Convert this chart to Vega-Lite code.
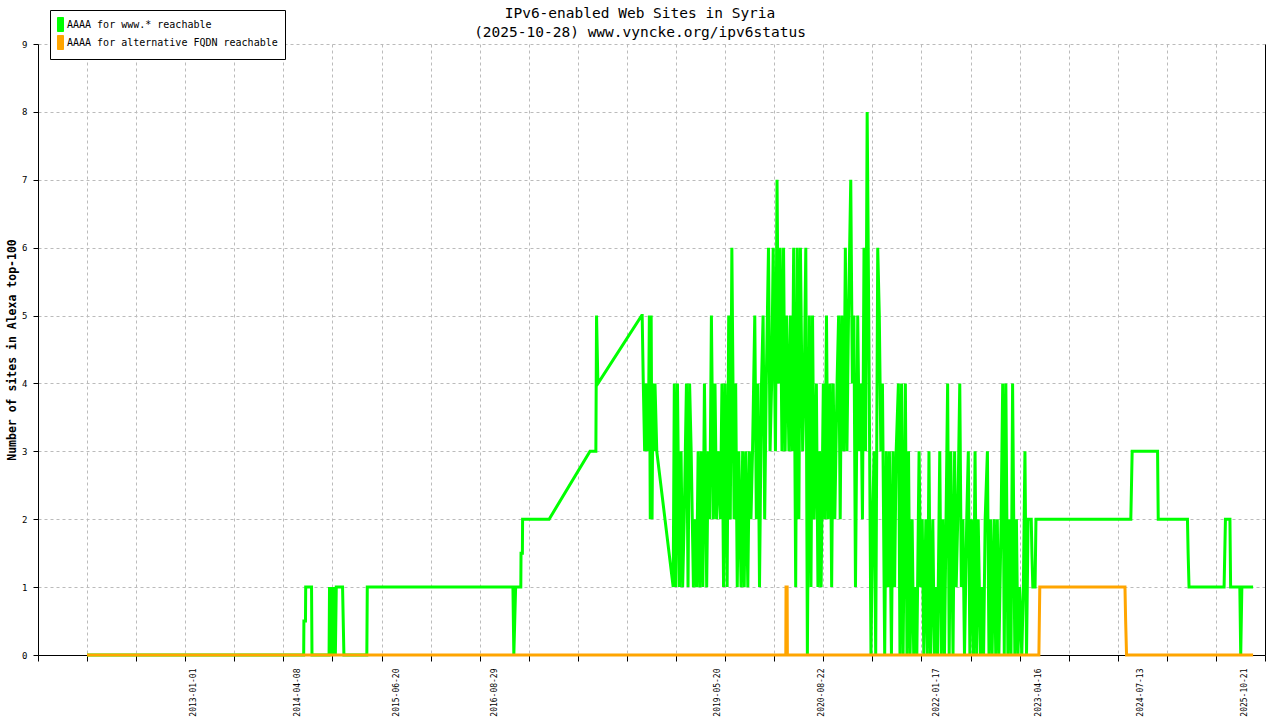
{
"$schema": "https://vega.github.io/schema/vega-lite/v6.json",
"width": 1227,
"height": 611,
"autosize": {"type": "none"},
"padding": {"left": 38, "top": 44, "right": 15, "bottom": 65},
"background": "white",
"title": {"text": ["IPv6-enabled Web Sites in Syria", "(2025-10-28) www.vyncke.org/ipv6status"], "font": "DejaVu Sans Mono", "fontSize": 14.5, "fontWeight": "normal", "color": "black", "anchor": "middle", "frame": "group", "offset": 4, "lineHeight": 19, "dx": -11.5, "dy": 35},
"datasets": {
"www": [
{"date":"2011-09-13","sites":0},
{"date":"2014-05-04","sites":0},{"date":"2014-05-05","sites":0.5},{"date":"2014-05-12","sites":0.5},{"date":"2014-05-13","sites":1},
{"date":"2014-06-08","sites":1},{"date":"2014-06-10","sites":0},
{"date":"2014-08-25","sites":0},{"date":"2014-08-27","sites":1},{"date":"2014-09-01","sites":0},{"date":"2014-09-04","sites":1},{"date":"2014-09-08","sites":0},{"date":"2014-09-11","sites":1},{"date":"2014-09-15","sites":0},{"date":"2014-09-18","sites":1},{"date":"2014-09-22","sites":0},{"date":"2014-09-26","sites":1},{"date":"2014-10-24","sites":1},{"date":"2014-10-27","sites":0.5},{"date":"2014-10-30","sites":0},
{"date":"2015-02-09","sites":0},{"date":"2015-02-11","sites":1},
{"date":"2016-11-20","sites":1},{"date":"2016-11-24","sites":0},{"date":"2016-11-28","sites":0.5},{"date":"2016-12-02","sites":1},
{"date":"2016-12-25","sites":1},{"date":"2016-12-26","sites":1.5},{"date":"2017-01-01","sites":1.5},{"date":"2017-01-02","sites":2},
{"date":"2017-04-30","sites":2},{"date":"2017-10-29","sites":3},{"date":"2017-11-24","sites":3},{"date":"2017-11-27","sites":5},{"date":"2017-12-03","sites":4},
{"date":"2018-06-16","sites":5},{"date":"2018-06-18","sites":5},{"date":"2018-06-23","sites":4},{"date":"2018-06-29","sites":3},{"date":"2018-07-03","sites":4},{"date":"2018-07-07","sites":3},{"date":"2018-07-11","sites":4},{"date":"2018-07-15","sites":3},{"date":"2018-07-20","sites":5},{"date":"2018-07-24","sites":2},{"date":"2018-07-28","sites":5},{"date":"2018-08-01","sites":2},{"date":"2018-08-05","sites":4},{"date":"2018-08-10","sites":3},{"date":"2018-08-14","sites":4},{"date":"2018-08-22","sites":3},
{"date":"2018-11-03","sites":1},
{"date":"2018-11-08","sites":4},{"date":"2018-11-15","sites":1},{"date":"2018-11-22","sites":4},
{"date":"2018-12-01","sites":1},{"date":"2018-12-08","sites":3},{"date":"2018-12-15","sites":1},{"date":"2018-12-22","sites":2},
{"date":"2019-01-01","sites":4},{"date":"2019-01-08","sites":1},{"date":"2019-01-15","sites":4},{"date":"2019-01-22","sites":3},
{"date":"2019-02-01","sites":1},{"date":"2019-02-08","sites":2},{"date":"2019-02-15","sites":1},{"date":"2019-02-22","sites":3},
{"date":"2019-03-01","sites":1},{"date":"2019-03-08","sites":3},{"date":"2019-03-15","sites":1},{"date":"2019-03-22","sites":4},
{"date":"2019-04-01","sites":1},{"date":"2019-04-08","sites":3},{"date":"2019-04-15","sites":2},{"date":"2019-04-22","sites":5},
{"date":"2019-05-01","sites":2},{"date":"2019-05-08","sites":4},{"date":"2019-05-15","sites":2},{"date":"2019-05-22","sites":3},
{"date":"2019-06-01","sites":2},{"date":"2019-06-08","sites":4},{"date":"2019-06-15","sites":1},{"date":"2019-06-22","sites":4},
{"date":"2019-07-01","sites":1},{"date":"2019-07-08","sites":5},{"date":"2019-07-15","sites":2},{"date":"2019-07-22","sites":6},
{"date":"2019-08-01","sites":2},{"date":"2019-08-08","sites":4},{"date":"2019-08-15","sites":1},{"date":"2019-08-22","sites":3},
{"date":"2019-09-01","sites":1},{"date":"2019-09-08","sites":3},{"date":"2019-09-15","sites":1},{"date":"2019-09-22","sites":3},
{"date":"2019-10-01","sites":1},{"date":"2019-10-08","sites":3},{"date":"2019-10-15","sites":2},{"date":"2019-10-22","sites":3},
{"date":"2019-11-01","sites":5},{"date":"2019-11-08","sites":2},{"date":"2019-11-15","sites":4},{"date":"2019-11-22","sites":1},
{"date":"2019-12-01","sites":4},{"date":"2019-12-08","sites":5},{"date":"2019-12-15","sites":2},{"date":"2019-12-22","sites":4},
{"date":"2020-01-01","sites":6},{"date":"2020-01-08","sites":3},{"date":"2020-01-15","sites":4},{"date":"2020-01-22","sites":6},
{"date":"2020-02-01","sites":3},{"date":"2020-02-08","sites":7},{"date":"2020-02-15","sites":4},{"date":"2020-02-22","sites":6},
{"date":"2020-03-01","sites":3},{"date":"2020-03-08","sites":6},{"date":"2020-03-15","sites":3},{"date":"2020-03-22","sites":5},
{"date":"2020-04-01","sites":3},{"date":"2020-04-08","sites":5},{"date":"2020-04-15","sites":3},{"date":"2020-04-22","sites":6},
{"date":"2020-05-01","sites":1},{"date":"2020-05-08","sites":6},{"date":"2020-05-15","sites":2},{"date":"2020-05-22","sites":6},
{"date":"2020-06-01","sites":3},{"date":"2020-06-08","sites":4},{"date":"2020-06-15","sites":6},{"date":"2020-06-22","sites":0},
{"date":"2020-07-01","sites":5},{"date":"2020-07-08","sites":1},{"date":"2020-07-15","sites":5},{"date":"2020-07-22","sites":2},
{"date":"2020-08-01","sites":4},{"date":"2020-08-08","sites":1},{"date":"2020-08-15","sites":3},{"date":"2020-08-22","sites":1},
{"date":"2020-09-01","sites":4},{"date":"2020-09-08","sites":2},{"date":"2020-09-15","sites":5},{"date":"2020-09-22","sites":2},
{"date":"2020-10-01","sites":4},{"date":"2020-10-08","sites":1},{"date":"2020-10-15","sites":4},{"date":"2020-10-22","sites":2},
{"date":"2020-11-01","sites":4},{"date":"2020-11-08","sites":5},{"date":"2020-11-15","sites":2},{"date":"2020-11-22","sites":5},
{"date":"2020-12-01","sites":3},{"date":"2020-12-08","sites":6},{"date":"2020-12-15","sites":3},{"date":"2020-12-22","sites":5},
{"date":"2021-01-01","sites":7},{"date":"2021-01-08","sites":4},{"date":"2021-01-15","sites":5},{"date":"2021-01-22","sites":1},
{"date":"2021-02-01","sites":5},{"date":"2021-02-08","sites":3},{"date":"2021-02-15","sites":4},{"date":"2021-02-22","sites":2},
{"date":"2021-03-01","sites":6},{"date":"2021-03-08","sites":3},{"date":"2021-03-15","sites":8},{"date":"2021-03-22","sites":5},
{"date":"2021-04-01","sites":0},{"date":"2021-04-08","sites":2},{"date":"2021-04-15","sites":3},{"date":"2021-04-22","sites":0},
{"date":"2021-05-01","sites":6},{"date":"2021-05-08","sites":5},{"date":"2021-05-15","sites":3},{"date":"2021-05-22","sites":4},
{"date":"2021-06-01","sites":0},{"date":"2021-06-08","sites":3},{"date":"2021-06-15","sites":1},{"date":"2021-06-22","sites":3},
{"date":"2021-07-01","sites":0},{"date":"2021-07-08","sites":3},{"date":"2021-07-15","sites":1},{"date":"2021-07-22","sites":3},
{"date":"2021-08-01","sites":4},{"date":"2021-08-08","sites":0},{"date":"2021-08-15","sites":4},{"date":"2021-08-22","sites":0},
{"date":"2021-09-01","sites":4},{"date":"2021-09-08","sites":0},{"date":"2021-09-15","sites":3},{"date":"2021-09-22","sites":0},
{"date":"2021-10-01","sites":2},{"date":"2021-10-08","sites":0},{"date":"2021-10-15","sites":1},{"date":"2021-10-22","sites":0},
{"date":"2021-11-01","sites":3},{"date":"2021-11-08","sites":1},{"date":"2021-11-15","sites":2},{"date":"2021-11-22","sites":0},
{"date":"2021-12-01","sites":2},{"date":"2021-12-08","sites":0},{"date":"2021-12-15","sites":3},{"date":"2021-12-22","sites":0},
{"date":"2022-01-01","sites":2},{"date":"2022-01-08","sites":0},{"date":"2022-01-15","sites":1},{"date":"2022-01-22","sites":0},
{"date":"2022-02-01","sites":3},{"date":"2022-02-08","sites":0},{"date":"2022-02-15","sites":2},{"date":"2022-02-22","sites":0},
{"date":"2022-03-01","sites":2},{"date":"2022-03-08","sites":4},{"date":"2022-03-15","sites":0},{"date":"2022-03-22","sites":3},
{"date":"2022-04-01","sites":0},{"date":"2022-04-08","sites":3},{"date":"2022-04-15","sites":1},{"date":"2022-04-22","sites":2},
{"date":"2022-05-01","sites":4},{"date":"2022-05-08","sites":1},{"date":"2022-05-15","sites":2},{"date":"2022-05-22","sites":0},
{"date":"2022-06-01","sites":2},{"date":"2022-06-08","sites":3},{"date":"2022-06-15","sites":0},{"date":"2022-06-22","sites":2},
{"date":"2022-07-01","sites":0},{"date":"2022-07-08","sites":3},{"date":"2022-07-15","sites":0},{"date":"2022-07-22","sites":2},
{"date":"2022-08-01","sites":0},{"date":"2022-08-08","sites":1},{"date":"2022-08-15","sites":0},{"date":"2022-08-22","sites":2},
{"date":"2022-09-01","sites":3},{"date":"2022-09-08","sites":0},{"date":"2022-09-15","sites":2},{"date":"2022-09-22","sites":0},
{"date":"2022-10-01","sites":2},{"date":"2022-10-08","sites":0},{"date":"2022-10-15","sites":2},{"date":"2022-10-22","sites":0},
{"date":"2022-11-01","sites":2},{"date":"2022-11-08","sites":4},{"date":"2022-11-15","sites":0},{"date":"2022-11-22","sites":4},
{"date":"2022-12-01","sites":0},{"date":"2022-12-08","sites":2},{"date":"2022-12-15","sites":0},{"date":"2022-12-22","sites":4},
{"date":"2023-01-01","sites":0},{"date":"2023-01-08","sites":2},{"date":"2023-01-15","sites":0},{"date":"2023-01-22","sites":1},
{"date":"2023-02-01","sites":0},{"date":"2023-02-08","sites":1},{"date":"2023-02-15","sites":3},{"date":"2023-02-22","sites":0},
{"date":"2023-03-01","sites":2},{"date":"2023-03-08","sites":2},{"date":"2023-03-15","sites":2},{"date":"2023-03-18","sites":1.5},{"date":"2023-03-22","sites":1},{"date":"2023-04-01","sites":1},{"date":"2023-04-05","sites":2},
{"date":"2024-05-31","sites":2},{"date":"2024-06-03","sites":2.5},{"date":"2024-06-06","sites":3},
{"date":"2024-09-27","sites":3},{"date":"2024-09-30","sites":2},
{"date":"2025-02-07","sites":2},{"date":"2025-02-10","sites":1.5},{"date":"2025-02-14","sites":1},
{"date":"2025-07-20","sites":1},{"date":"2025-07-26","sites":2},{"date":"2025-08-15","sites":2},{"date":"2025-08-18","sites":1},
{"date":"2025-09-28","sites":1},{"date":"2025-10-02","sites":0},{"date":"2025-10-07","sites":1},{"date":"2025-11-26","sites":1}
],
"alt": [
{"date":"2011-09-13","sites":0},
{"date":"2020-03-18","sites":0},{"date":"2020-03-19","sites":1},{"date":"2020-03-24","sites":1},{"date":"2020-03-25","sites":0},
{"date":"2023-04-18","sites":0},{"date":"2023-04-22","sites":1},
{"date":"2024-05-05","sites":1},{"date":"2024-05-08","sites":0.5},{"date":"2024-05-12","sites":0},
{"date":"2025-11-26","sites":0}
]
},
"layer": [
{
"data": {"name": "www"},
"mark": {"type": "line", "strokeWidth": 3, "interpolate": "linear"},
"encoding": {
"x": {"field": "date", "type": "temporal",
"scale": {"type": "utc", "nice": false, "domain": [{"year":2011,"month":2,"date":7,"utc":true},{"year":2026,"month":1,"date":18,"utc":true}]},
"axis": {"orient": "bottom", "title": null, "labels": false, "ticks": true, "tickSize": 6, "tickColor": "black", "tickWidth": 1, "grid": true, "gridColor": "#bbbbbb", "gridDash": [3,3], "gridWidth": 1, "domain": true, "domainColor": "black", "domainWidth": 1,
"values": [
{"year":2011,"month":2,"date":7,"utc":true},{"year":2011,"month":9,"date":13,"utc":true},{"year":2012,"month":4,"date":19,"utc":true},{"year":2012,"month":11,"date":23,"utc":true},
{"year":2013,"month":6,"date":29,"utc":true},{"year":2014,"month":2,"date":3,"utc":true},{"year":2014,"month":9,"date":9,"utc":true},{"year":2015,"month":4,"date":16,"utc":true},
{"year":2015,"month":11,"date":20,"utc":true},{"year":2016,"month":6,"date":25,"utc":true},{"year":2017,"month":1,"date":30,"utc":true},{"year":2017,"month":9,"date":5,"utc":true},
{"year":2018,"month":4,"date":11,"utc":true},{"year":2018,"month":11,"date":16,"utc":true},{"year":2019,"month":6,"date":22,"utc":true},{"year":2020,"month":1,"date":26,"utc":true},
{"year":2020,"month":9,"date":1,"utc":true},{"year":2021,"month":4,"date":7,"utc":true},{"year":2021,"month":11,"date":11,"utc":true},{"year":2022,"month":6,"date":18,"utc":true},
{"year":2023,"month":1,"date":22,"utc":true},{"year":2023,"month":8,"date":29,"utc":true},{"year":2024,"month":4,"date":3,"utc":true},{"year":2024,"month":11,"date":7,"utc":true},
{"year":2025,"month":6,"date":14,"utc":true},{"year":2026,"month":1,"date":18,"utc":true}
]}},
"y": {"field": "sites", "type": "quantitative",
"scale": {"domain": [0, 9], "nice": false, "zero": true},
"axis": {"orient": "left", "values": [0,1,2,3,4,5,6,7,8,9], "format": "d",
"title": "Number of sites in Alexa top-100", "titleFont": "DejaVu Sans Mono", "titleFontSize": 11.5, "titleFontWeight": "bold", "titleColor": "black", "titleAngle": 270, "titleX": -26, "titleY": 305.5, "titleAlign": "center", "titleBaseline": "middle",
"labelFont": "DejaVu Sans Mono", "labelFontSize": 9, "labelColor": "black", "labelPadding": 6,
"ticks": true, "tickSize": 5, "tickColor": "black", "tickWidth": 1,
"domain": true, "domainColor": "black", "domainWidth": 1,
"grid": true, "gridColor": "#bbbbbb", "gridDash": [3,3], "gridWidth": 1}},
"color": {"datum": "AAAA for www.* reachable", "type": "nominal",
"scale": {"domain": ["AAAA for www.* reachable", "AAAA for alternative FQDN reachable"], "range": ["#00ff00", "#ffa500"]},
"legend": {"title": null, "orient": "none", "legendX": 12, "legendY": -34, "direction": "vertical",
"strokeColor": "black", "fillColor": "white", "padding": 7,
"labelFont": "DejaVu Sans Mono", "labelFontSize": 10, "labelColor": "black", "labelOffset": -1, "labelLimit": 0,
"rowPadding": -1, "symbolOffset": -4, "symbolType": "M-0.43,-1H0.43V1H-0.43Z", "symbolSize": 196, "symbolStrokeWidth": 1, "symbolStrokeColor": "black", "symbolOpacity": 1,
"encode": {"symbols": {"update": {"fill": {"scale": "color", "field": "value"}, "stroke": {"value": "black"}, "strokeWidth": {"value": 1}}}}}}
}
},
{
"data": {"name": "alt"},
"mark": {"type": "line", "strokeWidth": 3, "interpolate": "linear"},
"encoding": {
"x": {"field": "date", "type": "temporal",
"axis": {"orient": "bottom", "title": null, "ticks": false, "grid": false, "domain": false,
"format": "%Y-%m-%d", "labelAngle": 270, "labelFont": "DejaVu Sans Mono", "labelFontSize": 8, "labelColor": "black", "labelPadding": 13, "labelOverlap": false, "labelFlush": false, "labelBound": false,
"values": [
{"year":2013,"month":1,"date":1,"utc":true},{"year":2014,"month":4,"date":8,"utc":true},{"year":2015,"month":6,"date":20,"utc":true},{"year":2016,"month":8,"date":29,"utc":true},
{"year":2019,"month":5,"date":20,"utc":true},{"year":2020,"month":8,"date":22,"utc":true},{"year":2022,"month":1,"date":17,"utc":true},{"year":2023,"month":4,"date":16,"utc":true},
{"year":2024,"month":7,"date":13,"utc":true},{"year":2025,"month":10,"date":21,"utc":true}
]}},
"y": {"field": "sites", "type": "quantitative",
"axis": {"orient": "right", "title": null, "labels": false, "ticks": false, "grid": false, "domain": true, "domainColor": "black", "domainWidth": 1}},
"color": {"datum": "AAAA for alternative FQDN reachable", "type": "nominal"}
}
}
],
"resolve": {"axis": {"x": "independent", "y": "independent"}},
"config": {"view": {"stroke": null}, "font": "DejaVu Sans Mono"}
}
